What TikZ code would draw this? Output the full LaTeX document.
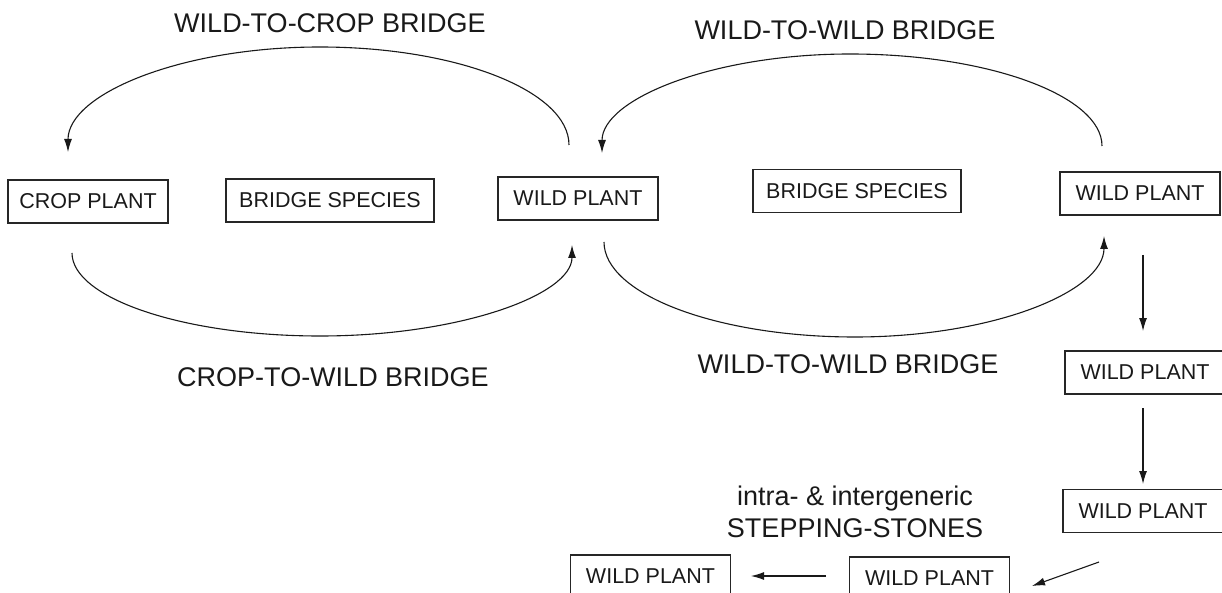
\documentclass[tikz,border=0pt]{standalone}
\usepackage{fontspec}
\setmainfont{Liberation Sans}
\usetikzlibrary{arrows.meta}
\begin{document}
\begin{tikzpicture}[x=1pt,y=-1pt,
  plant/.style={draw=black!85, line width=1.1pt, minimum width=160pt, minimum height=43pt,
    inner sep=0pt, font=\fontsize{21.5}{25}\selectfont, text=black!90},
  bridgebox/.style={plant, minimum width=208pt},
  title/.style={font=\fontsize{27}{31}\selectfont, text=black!90, inner sep=0pt, anchor=base},
  conn/.style={line width=1.1pt, draw=black!90, -{Latex[length=13pt,width=8pt]}},
]
\useasboundingbox (0,0) rectangle (1222,593);

% boxes
\node[plant] (crop) at (88,201.5) {CROP PLANT};
\node[bridgebox] (bs1) at (330,200.5) {BRIDGE SPECIES};
\node[plant] (wp1) at (578,198.5) {WILD PLANT};
\node[bridgebox] (bs2) at (857,191) {BRIDGE SPECIES};
\node[plant] (wp2) at (1140,193.5) {WILD PLANT};
\node[plant] (wp3) at (1145,372.5) {WILD PLANT};
\node[plant] (wp4) at (1143,511) {WILD PLANT};
\node[plant] (wp5) at (929.5,578.5) {WILD PLANT};
\node[plant] (wp6) at (650.5,576.5) {WILD PLANT};

% labels
\node[title] (l1) at (330,33) {WILD-TO-CROP BRIDGE};
\node[title] (l2) at (845,40) {WILD-TO-WILD BRIDGE};
\node[title] (l3) at (333,386) {CROP-TO-WILD BRIDGE};
\node[title] (l4) at (848,373) {WILD-TO-WILD BRIDGE};
\node[title] (l5) at (855,505) {intra- \& intergeneric};
\node[title] (l6) at (855,537) {STEPPING-STONES};

% free ends of connectors
\coordinate (c1s) at (569,145);   \coordinate (c1e) at (68,152);
\coordinate (c2s) at (1102,146);  \coordinate (c2e) at (602,153);
\coordinate (c3s) at (72,253);    \coordinate (c3e) at (572,245);
\coordinate (c4s) at (604,242);   \coordinate (c4e) at (1104,236);
\coordinate (d1s) at (1143,255);  \coordinate (d1e) at (1143,331);
\coordinate (d2s) at (1143,408);  \coordinate (d2e) at (1143,484);
\coordinate (d3s) at (1099,562);  \coordinate (d3e) at (1032,586);
\coordinate (d4s) at (826,576);   \coordinate (d4e) at (751,576);

% bridge arcs
\draw[conn] (c1s) .. controls (569,91) and (457,47) .. (320,47)
                  .. controls (181,47) and (68,94) .. (c1e);
\draw[conn] (c2s) .. controls (1102,96) and (989,54) .. (850,54)
                  .. controls (713,54) and (602,99) .. (c2e);
\draw[conn] (c3s) .. controls (72,298) and (183,336) .. (320,336)
                  .. controls (459,336) and (572,295) .. (c3e);
\draw[conn] (c4s) .. controls (604,294) and (716,337) .. (855,337)
                  .. controls (992,337) and (1104,292) .. (c4e);

% stepping-stone arrows
\draw[conn] (d1s) -- (d1e);
\draw[conn] (d2s) -- (d2e);
\draw[conn] (d3s) -- (d3e);
\draw[conn] (d4s) -- (d4e);
\end{tikzpicture}
\end{document}
